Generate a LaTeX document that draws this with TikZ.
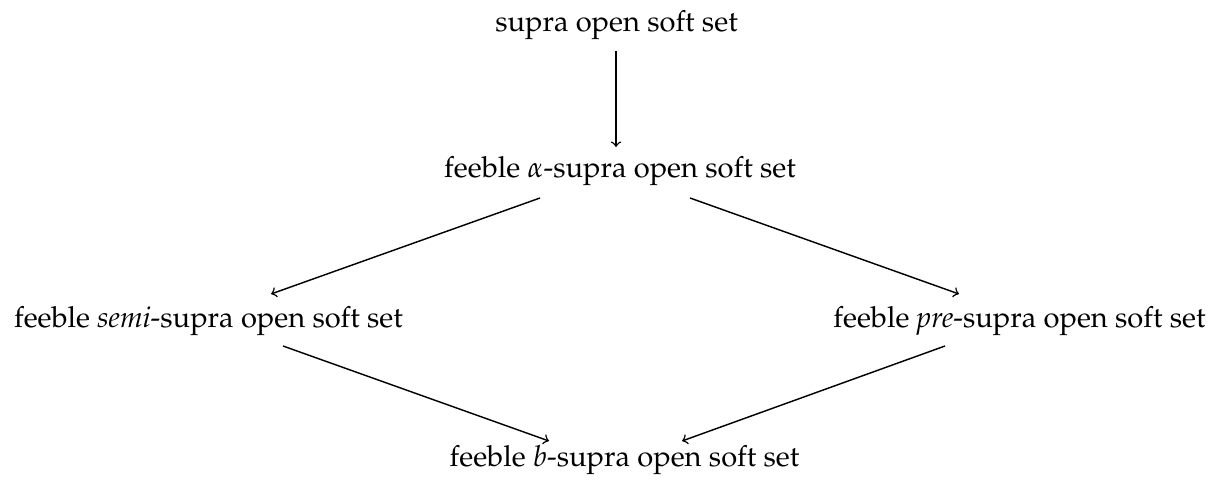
\documentclass[tikz,border=0pt]{standalone}
\usepackage[T1]{fontenc}
\usepackage{mathpazo}
\begin{document}
\begin{tikzpicture}[x=0.3817pt,y=-0.3817pt,
  lbl/.style={anchor=base,inner sep=0pt,font=\fontsize{11.1}{13}\selectfont},
  imp/.style={->,line width=0.55pt,>={to[scale=1.15]}}]
\useasboundingbox (0,0) rectangle (1211,482);
% statements
\node[lbl] (top)   at (616.5,32)  {supra open soft set};
\node[lbl] (alpha) at (620,178)   {feeble $\alpha$-supra open soft set};
\node[lbl] (semi)  at (208.5,327) {feeble \textit{semi}-supra open soft set};
\node[lbl] (pre)   at (1019.5,327) {feeble \textit{pre}-supra open soft set};
\node[lbl] (bset)  at (624.5,466) {feeble $b$-supra open soft set};
% arrow end points
\coordinate (t1) at (616,51);  \coordinate (t2) at (616,147);
\coordinate (a1) at (540,198); \coordinate (a2) at (271,294);
\coordinate (a3) at (690,198); \coordinate (a4) at (959,294);
\coordinate (s1) at (283,346); \coordinate (s2) at (549,441);
\coordinate (p1) at (945,346); \coordinate (p2) at (682,441);
% implications
\draw[imp] (t1) -- (t2);
\draw[imp] (a1) -- (a2);
\draw[imp] (a3) -- (a4);
\draw[imp] (s1) -- (s2);
\draw[imp] (p1) -- (p2);
\end{tikzpicture}
\end{document}
